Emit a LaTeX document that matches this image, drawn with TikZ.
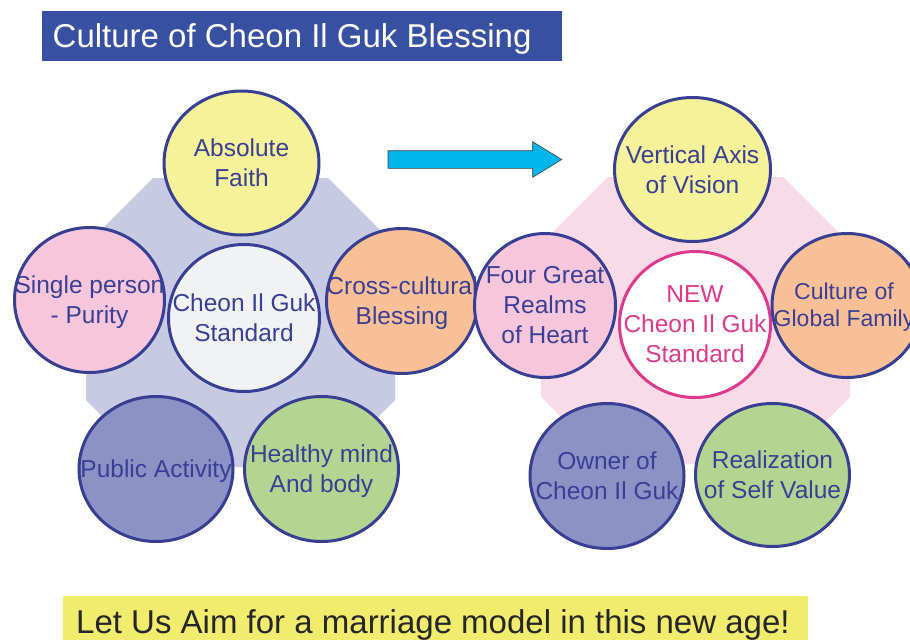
\documentclass[tikz,border=0pt]{standalone}
\usepackage{fontspec}
\setmainfont{Liberation Sans}
\usetikzlibrary{shapes.geometric}
\definecolor{titleblue}{HTML}{3850A2}
\definecolor{edgeblue}{HTML}{383F93}
\definecolor{txtblue}{HTML}{3A3F94}
\definecolor{octleft}{HTML}{C8CAE4}
\definecolor{octright}{HTML}{F9DBE7}
\definecolor{cyellow}{HTML}{F5F29A}
\definecolor{cpink}{HTML}{F6C6DB}
\definecolor{cwhite}{HTML}{F1F2F4}
\definecolor{corange}{HTML}{F9C098}
\definecolor{cpurple}{HTML}{8A92C6}
\definecolor{cgreen}{HTML}{B3D592}
\definecolor{magenta2}{HTML}{DE3A8C}
\definecolor{arrowcyan}{HTML}{00B6EC}
\definecolor{bottomyellow}{HTML}{F2EC6E}
\tikzset{
  bubble/.style={ellipse, draw=edgeblue, line width=3pt, inner sep=0pt,
    minimum width=154pt, minimum height=145pt},
  bubtext/.style={align=center, text=txtblue, inner sep=0pt,
    font=\fontsize{24.5}{30}\selectfont},
  desc/.style={yshift=-2.5pt}
}
\begin{document}
\begin{tikzpicture}[x=1pt,y=-1pt]
\clip (0,0) rectangle (910,640);
\fill[white] (0,0) rectangle (910,640);
% title
\fill[titleblue] (42,11) rectangle (562,61);
\node[anchor=base west, inner sep=0pt, text=white, font=\fontsize{33}{36}\selectfont] (title) at (52.5,47.3) {Culture of Cheon Il Guk Blessing};
% octagons
\fill[octleft] (153,178) -- (328,178) -- (395,245) -- (395,400) -- (328,467) -- (153,467) -- (86,400) -- (86,245) -- cycle;
\fill[octright] (608,177) -- (783,177) -- (850,244) -- (850,397) -- (783,464) -- (608,464) -- (541,397) -- (541,244) -- cycle;
% left cluster
\node[bubble, fill=cyellow, minimum width=155pt, minimum height=144pt] (lf) at (241.5,163) {};
\node[bubble, fill=cpink, minimum width=150pt] (ls) at (89.5,300) {};
\node[bubble, fill=cwhite, minimum width=151pt, minimum height=147pt] (lc) at (244,318) {};
\node[bubble, fill=corange, minimum width=151pt] (lx) at (402,301) {};
\node[bubble, fill=cpurple] (lp) at (156,469) {};
\node[bubble, fill=cgreen] (lh) at (321.5,469) {};
\node[bubtext] (lf-t) at (lf) {Absolute\\Faith};
\node[bubtext, desc] (ls-t) at (ls) {Single person\\- Purity};
\node[bubtext] (lc-t) at (lc) {Cheon Il Guk\\Standard};
\node[bubtext, desc] (lx-t) at (lx) {Cross-cultural\\Blessing};
\node[bubtext, desc] (lp-t) at (lp) {Public Activity};
\node[bubtext, desc] (lh-t) at (lh) {Healthy mind\\And body};
% arrow
\fill[arrowcyan, draw=black!75, line width=0.6pt, line join=miter] (388,150.7) -- (532.7,150.7) -- (532.7,141.7) -- (561.7,159.5) -- (532.7,177.3) -- (532.7,168.3) -- (388,168.3) -- cycle;
% right cluster
\node[bubble, fill=cyellow, minimum width=156pt, minimum height=144pt] (rv) at (692.5,169.5) {};
\node[bubble, fill=cpink, minimum width=141pt, minimum height=144pt] (rf) at (545,305.5) {};
\node[bubble, fill=white, draw=magenta2, minimum width=151pt, minimum height=146pt] (rn) at (695,324.5) {};
\node[bubble, fill=corange, minimum width=150pt, minimum height=144pt] (rg) at (847,305.5) {};
\node[bubble, fill=cpurple] (ro) at (607,476) {};
\node[bubble, fill=cgreen, minimum height=143pt] (rr) at (772.5,475) {};
\node[bubtext] (rv-t) at (rv) {Vertical Axis\\of Vision};
\node[bubtext] (rf-t) at (rf) {Four Great\\Realms\\of Heart};
\node[bubtext, text=magenta2] (rn-t) at (rn) {NEW\\Cheon Il Guk\\Standard};
\node[bubtext, desc, font=\fontsize{23}{27}\selectfont] (rg-t) at (844,305) {Culture of\\Global Family};
\node[bubtext] (ro-t) at (ro) {Owner of\\Cheon Il Guk};
\node[bubtext] (rr-t) at (rr) {Realization\\of Self Value};
% bottom banner
\fill[bottomyellow] (62.5,596) rectangle (808,640);
\node[anchor=base west, inner sep=0pt, text=black!85, font=\fontsize{33}{36}\selectfont] (motto) at (76,633) {Let Us Aim for a marriage model in this new age!};
\end{tikzpicture}
\end{document}
